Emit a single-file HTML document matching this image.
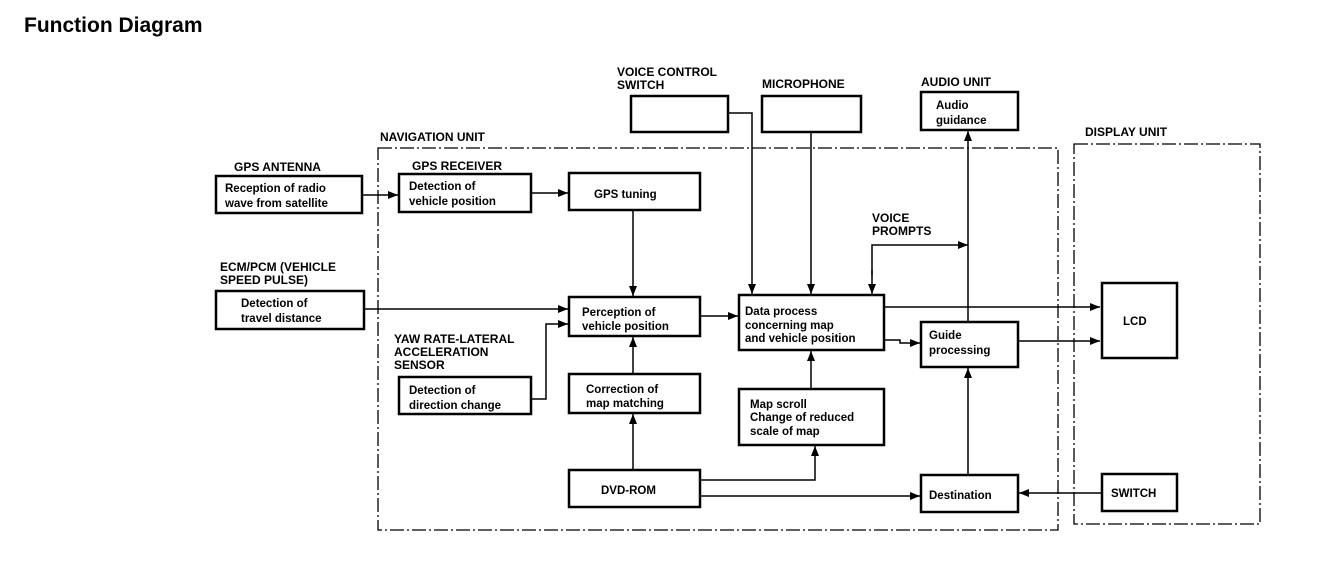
<!DOCTYPE html>
<html><head><meta charset="utf-8"><style>
html,body{margin:0;padding:0;background:#fff;}
svg{display:block;}
text{font-family:"Liberation Sans",sans-serif;font-weight:bold;fill:#000;}
.t{font-size:12px;}
.b{font-size:11.5px;}
</style></head><body>
<svg width="1328" height="568" viewBox="0 0 1328 568" xmlns="http://www.w3.org/2000/svg">
<defs>
<marker id="a" markerWidth="10" markerHeight="8" refX="10" refY="4" orient="auto" markerUnits="userSpaceOnUse"><path d="M0,0 L10,4 L0,8 Z" fill="#000"/></marker>
</defs>
<text x="24" y="32" style="font-size:21px">Function Diagram</text>

<g fill="none" stroke="#000" stroke-width="1.3" stroke-dasharray="14,3,2,3">
<rect x="378" y="148" width="680" height="382"/>
<rect x="1074" y="144" width="186" height="380"/>
</g>

<g fill="none" stroke="#000" stroke-width="2.5">
<rect x="216" y="176" width="146" height="37"/>
<rect x="399" y="174" width="132" height="38"/>
<rect x="569" y="173" width="131" height="37"/>
<rect x="216" y="291" width="148" height="38"/>
<rect x="569" y="297" width="131" height="39"/>
<rect x="399" y="377" width="132" height="37"/>
<rect x="569" y="374" width="131" height="39"/>
<rect x="569" y="470" width="131" height="37"/>
<rect x="739" y="295" width="145" height="55"/>
<rect x="739" y="389" width="145" height="56"/>
<rect x="921" y="322" width="97" height="45"/>
<rect x="921" y="475" width="97" height="37"/>
<rect x="631" y="96" width="97" height="36"/>
<rect x="762" y="96" width="99" height="36"/>
<rect x="921" y="92" width="97" height="38"/>
<rect x="1102" y="283" width="75" height="75"/>
<rect x="1102" y="474" width="75" height="37"/>
</g>

<g fill="none" stroke="#000" stroke-width="1.5" marker-end="url(#a)">
<path d="M362,195 H398"/>
<path d="M531,193 H568"/>
<path d="M633,210 V296"/>
<path d="M364,309 H568"/>
<path d="M531,399 H546 V324 H568"/>
<path d="M700,316 H738"/>
<path d="M633,374 V337"/>
<path d="M633,470 V414"/>
<path d="M728,113 H752 V294"/>
<path d="M811,132 V294"/>
<path d="M872,270 V294"/>
<path d="M872,275 V245 H968"/>
<path d="M884,307 H1100"/>
<path d="M884,340 H900 V343 H920"/>
<path d="M968,322 V131"/>
<path d="M1018,341 H1100"/>
<path d="M811,389 V351"/>
<path d="M700,480 H815 V446"/>
<path d="M700,496 H920"/>
<path d="M968,475 V368"/>
<path d="M1102,493 H1019"/>
</g>

<text class="t" x="234" y="171">GPS ANTENNA</text>
<text class="b" x="225" y="192">Reception of radio</text>
<text class="b" x="225" y="207">wave from satellite</text>
<text class="t" x="380" y="141">NAVIGATION UNIT</text>
<text class="t" x="412" y="170">GPS RECEIVER</text>
<text class="b" x="409" y="190">Detection of</text>
<text class="b" x="409" y="205">vehicle position</text>
<text class="b" x="594" y="198">GPS tuning</text>
<text class="t" x="220" y="271">ECM/PCM (VEHICLE</text>
<text class="t" x="220" y="284">SPEED PULSE)</text>
<text class="b" x="241" y="307">Detection of</text>
<text class="b" x="241" y="322">travel distance</text>
<text class="b" x="582" y="316">Perception of</text>
<text class="b" x="582" y="330">vehicle position</text>
<text class="t" x="394" y="343">YAW RATE-LATERAL</text>
<text class="t" x="394" y="356">ACCELERATION</text>
<text class="t" x="394" y="369">SENSOR</text>
<text class="b" x="409" y="394">Detection of</text>
<text class="b" x="409" y="409">direction change</text>
<text class="b" x="586" y="393">Correction of</text>
<text class="b" x="586" y="407">map matching</text>
<text class="b" x="601" y="494">DVD-ROM</text>
<text class="t" x="617" y="76">VOICE CONTROL</text>
<text class="t" x="617" y="89">SWITCH</text>
<text class="t" x="762" y="88">MICROPHONE</text>
<text class="t" x="921" y="86">AUDIO UNIT</text>
<text class="b" x="936" y="109">Audio</text>
<text class="b" x="936" y="124">guidance</text>
<text class="t" x="1085" y="136">DISPLAY UNIT</text>
<text class="t" x="872" y="222">VOICE</text>
<text class="t" x="872" y="235">PROMPTS</text>
<text class="b" x="745" y="315">Data process</text>
<text class="b" x="745" y="329">concerning map</text>
<text class="b" x="745" y="342">and vehicle position</text>
<text class="b" x="929" y="339">Guide</text>
<text class="b" x="929" y="354">processing</text>
<text class="b" x="750" y="408">Map scroll</text>
<text class="b" x="750" y="421">Change of reduced</text>
<text class="b" x="750" y="435">scale of map</text>
<text class="b" x="929" y="499">Destination</text>
<text class="b" x="1123" y="325">LCD</text>
<text class="b" x="1111" y="497">SWITCH</text>
</svg>
</body></html>
